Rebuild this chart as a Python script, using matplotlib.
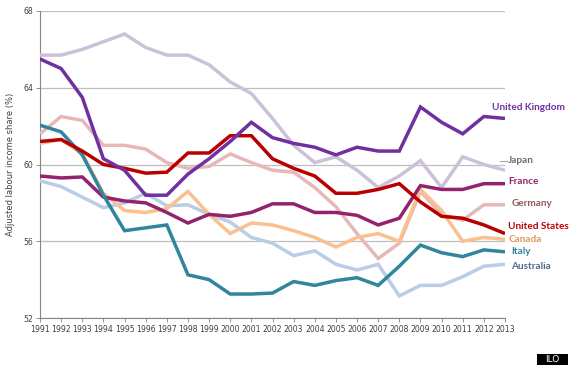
import numpy as np
import matplotlib
matplotlib.use("Agg")
import matplotlib.pyplot as plt
from matplotlib.patches import Rectangle

# ── Data ─────────────────────────────────────────────────────────────
years = list(range(1991, 2014))

united_kingdom = [65.5, 65.0, 63.5, 60.3, 59.7, 58.4, 58.4, 59.5, 60.3, 61.2, 62.2, 61.4,
                  61.1, 60.9, 60.5, 60.9, 60.7, 60.7, 63.0, 62.2, 61.6, 62.5, 62.4]
japan = [65.7, 65.7, 66.0, 66.4, 66.8, 66.1, 65.7, 65.7, 65.2, 64.3, 63.7, 62.4,
         61.0, 60.1, 60.4, 59.7, 58.8, 59.4, 60.2, 58.8, 60.4, 60.0, 59.7]
france = [59.4, 59.3, 59.35, 58.3, 58.1, 58.0, 57.5, 56.95, 57.4, 57.3, 57.5, 57.95,
          57.95, 57.5, 57.5, 57.35, 56.85, 57.2, 58.9, 58.7, 58.7, 59.0, 59.0]
germany = [61.6, 62.5, 62.3, 61.0, 61.0, 60.8, 60.1, 59.8, 59.9, 60.55, 60.1, 59.7,
           59.6, 58.8, 57.8, 56.4, 55.1, 55.9, 58.6, 57.4, 57.1, 57.9, 57.9]
united_states = [61.2, 61.3, 60.7, 60.0, 59.8, 59.55, 59.6, 60.6, 60.6, 61.5, 61.5, 60.3,
                 59.8, 59.4, 58.5, 58.5, 58.7, 59.0, 58.05, 57.3, 57.2, 56.85, 56.4]
canada = [61.1, 61.3, 60.55, 58.5, 57.6, 57.5, 57.7, 58.6, 57.4, 56.4, 56.95, 56.85,
          56.55, 56.2, 55.7, 56.2, 56.4, 56.0, 58.7, 57.6, 56.0, 56.2, 56.1]
italy = [62.05, 61.7, 60.5, 58.4, 56.55, 56.7, 56.85, 54.25, 54.0, 53.25, 53.25, 53.3,
         53.9, 53.7, 53.95, 54.1, 53.7, 54.7, 55.8, 55.4, 55.2, 55.55, 55.45]
australia = [59.15, 58.85, 58.3, 57.75, 58.0, 58.5, 57.85, 57.9, 57.4, 57.0, 56.2, 55.9,
             55.25, 55.5, 54.8, 54.5, 54.8, 53.15, 53.7, 53.7, 54.15, 54.7, 54.8]

# draw order: light lines first, dark ones on top
SERIES = [
    ("Japan",          japan,          "#CCC1DA", "#6E6878"),
    ("Australia",      australia,      "#B9CDE5", "#4F6B8C"),
    ("Germany",        germany,        "#E6B9B8", "#8E5A5C"),
    ("Canada",         canada,         "#FAC090", "#E09A50"),
    ("France",         france,         "#93236F", "#93236F"),
    ("Italy",          italy,          "#31859C", "#31859C"),
    ("United States",  united_states,  "#B80000", "#C00000"),
    ("United Kingdom", united_kingdom, "#7030A0", "#7030A0"),
]

# label anchor (x in years, y in data units)
LABEL_POS = {
    "United Kingdom": (2012.4, 62.95),
    "Japan":          (2013.15, 60.2),
    "France":         (2013.15, 59.1),
    "Germany":        (2013.3, 57.95),
    "United States":  (2013.15, 56.75),
    "Canada":         (2013.15, 56.1),
    "Italy":          (2013.3, 55.45),
    "Australia":      (2013.3, 54.7),
}

# ── Plot ──────────────────────────────────────────────────────────────
fig = plt.figure(figsize=(5.7, 3.67), dpi=100)
fig.patch.set_facecolor("#ffffff")
ax = fig.add_axes([40 / 570, 1 - 318 / 367, 465 / 570, 307 / 367])

for name, vals, color, _ in SERIES:
    ax.plot(years, vals, color=color, linewidth=2.5, solid_joinstyle="miter",
            solid_capstyle="butt", zorder=3)

for name, vals, _, tcolor in SERIES:
    lx, ly = LABEL_POS[name]
    ax.text(lx, ly, name, color=tcolor, fontsize=7.2,
            fontweight="bold", family=["Lato", "DejaVu Sans"],
            ha="left", va="center", clip_on=False, zorder=5)

# short leader line for Japan
ax.plot([2012.75, 2013.1], [60.2, 60.2], color="#A6A6A6", linewidth=0.8,
        clip_on=False)

ax.set_xlim(1991, 2013)
ax.set_ylim(52, 68)
ax.set_yticks([52, 56, 60, 64, 68])
ax.set_xticks(years)
ax.tick_params(axis="both", labelsize=5.6, length=3, width=0.6, pad=2,
               colors="#808080", labelcolor="#404040")
ax.grid(axis="y", color="#BFBFBF", linewidth=0.9)
ax.set_axisbelow(True)
for side in ["top", "right"]:
    ax.spines[side].set_visible(False)
for side in ["left", "bottom"]:
    ax.spines[side].set_color("#868686")
    ax.spines[side].set_linewidth(0.8)

ax.set_ylabel("Adjusted labour income share (%)", fontsize=6, color="#404040",
              labelpad=6)

# ILO badge
fig.patches.append(Rectangle((537 / 570, 1 - 365 / 367), 31 / 570, 11 / 367,
                             transform=fig.transFigure, facecolor="#000000",
                             edgecolor="none"))
fig.text(552.5 / 570, 1 - 359.5 / 367, "ILO", color="#ffffff", fontsize=6.5,
         ha="center", va="center")

plt.savefig("out.png", dpi=100, facecolor="#ffffff")
